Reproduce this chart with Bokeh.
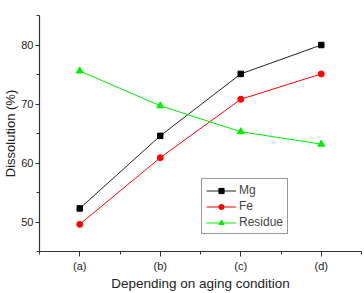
from bokeh.plotting import figure
from bokeh.models import FixedTicker, Range1d
from bokeh.embed import file_html
from bokeh.resources import INLINE

conditions = ["(a)", "(b)", "(c)", "(d)"]
x_pos = [1, 2, 3, 4]
mg = [52.3, 64.6, 75.1, 80.0]
fe = [49.6, 60.9, 70.8, 75.1]
residue = [75.6, 69.7, 65.3, 63.2]

FONT = "Liberation Sans"

p = figure(width=364, height=293, output_backend="svg", toolbar_location=None,
           x_range=Range1d(0.5, 4.5), y_range=Range1d(45, 85),
           min_border_left=0, min_border_right=3, min_border_top=15, min_border_bottom=0)
p.outline_line_color = None
p.grid.visible = False
p.background_fill_color = "white"
p.border_fill_color = "white"

p.xaxis.ticker = FixedTicker(ticks=x_pos, minor_ticks=[0.5, 1.5, 2.5, 3.5, 4.5])
p.xaxis.major_label_overrides = {x: c for x, c in zip(x_pos, conditions)}
p.yaxis.ticker = FixedTicker(ticks=[50, 60, 70, 80], minor_ticks=[45, 55, 65, 75, 85])

for ax in (p.xaxis[0], p.yaxis[0]):
    ax.axis_line_color = "#333333"
    ax.axis_line_width = 1.2
    ax.major_tick_line_color = "#333333"
    ax.minor_tick_line_color = "#333333"
    ax.major_tick_in = 0
    ax.major_tick_out = 5
    ax.minor_tick_in = 0
    ax.minor_tick_out = 3
    ax.major_label_text_font = FONT
    ax.major_label_text_font_size = "11px"
    ax.major_label_text_color = "#222222"
    ax.axis_label_text_font = FONT
    ax.axis_label_text_font_size = "13px"
    ax.axis_label_text_font_style = "normal"
    ax.axis_label_text_color = "#222222"

p.xaxis.axis_label = "Depending on aging condition"
p.yaxis.axis_label = "Dissolution (%)"
p.xaxis.axis_label_text_font_size = "13.5px"
p.xaxis.major_label_standoff = 3
p.xaxis.axis_label_standoff = 1
p.yaxis.major_label_standoff = 2
p.yaxis.axis_label_standoff = 0
p.yaxis.major_tick_out = 4

p.line(x_pos, mg, line_color="#222222", line_width=1, legend_label="Mg")
p.scatter(x_pos, mg, marker="square", size=5.5, fill_color="black", line_color="black", legend_label="Mg")
p.line(x_pos, fe, line_color="red", line_width=1, legend_label="Fe")
p.scatter(x_pos, fe, marker="circle", size=6, fill_color="red", line_color="red", legend_label="Fe")
p.line(x_pos, residue, line_color="#00ee00", line_width=1, legend_label="Residue")
p.scatter(x_pos, residue, marker="triangle", size=7, fill_color="#00ee00", line_color="#00ee00", legend_label="Residue")

lg = p.legend[0]
lg.location = (162, 17)
lg.border_line_color = "#333333"
lg.border_line_width = 1
lg.label_text_font = FONT
lg.label_text_font_size = "12px"
lg.label_height = 13
lg.glyph_height = 13
lg.glyph_width = 30
lg.spacing = 2
lg.padding = 4
lg.margin = 0
lg.label_standoff = 3
lg.background_fill_alpha = 1

open("out.html", "w").write(file_html(p, INLINE))
